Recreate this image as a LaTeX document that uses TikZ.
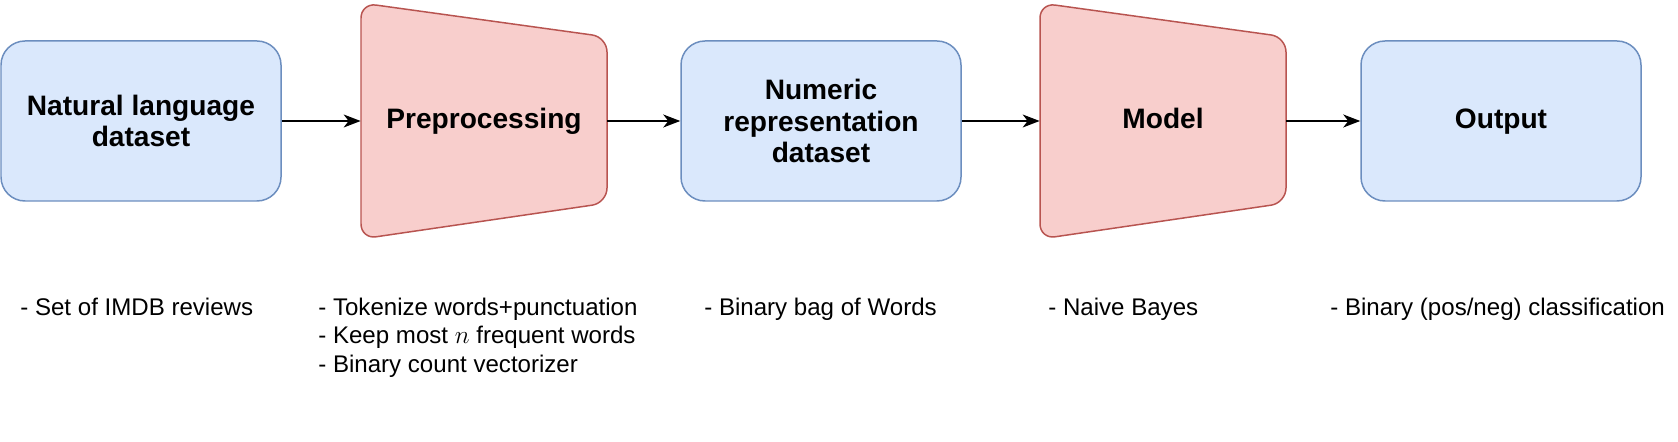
\documentclass[tikz,border=0pt]{standalone}
\usepackage{fontspec}
\setmainfont{Liberation Sans}
\usetikzlibrary{arrows.meta}
\definecolor{boxfill}{HTML}{DAE8FC}
\definecolor{boxline}{HTML}{6C8EBF}
\definecolor{trapfill}{HTML}{F8CECC}
\definecolor{trapline}{HTML}{B85450}
\tikzset{
  databox/.style={draw=boxline, fill=boxfill, line width=0.85pt, rounded corners=0.48cm,
    minimum width=5.6cm, minimum height=3.2cm,
    font=\fontsize{16}{18}\selectfont\bfseries},
  stagebox/.style={minimum width=4.92cm, minimum height=4.72cm,
    font=\fontsize{16}{18}\selectfont\bfseries},
  oneline/.style={text height=1.1em, text depth=0.21em},
  note/.style={anchor=north west, inner sep=0pt, align=left, font=\fontsize{13.7}{16}\selectfont},
  flow/.style={-{Stealth[length=0.34cm,width=0.26cm,inset=0.1cm]}, line width=0.75pt}
}
\begin{document}
\begin{tikzpicture}
\useasboundingbox (0,0) rectangle (33.56,-8.84);
\foreach \cx in {9.68,23.26} {
  \filldraw[draw=trapline, fill=trapfill, line width=0.85pt, rounded corners=0.3cm]
    ({\cx-2.46},-0.06) -- ({\cx+2.46},-0.74) -- ({\cx+2.46},-4.06) -- ({\cx-2.46},-4.78) -- cycle;
}
\node[databox, align=center] (natural) at (2.82,-2.42) {Natural language\\dataset};
\node[stagebox, oneline] (prep) at (9.68,-2.42) {Preprocessing};
\node[databox, align=center] (numeric) at (16.42,-2.42) {Numeric\\representation\\dataset};
\node[stagebox, oneline] (model) at (23.26,-2.42) {Model};
\node[databox, oneline] (output) at (30.02,-2.42) {Output};
\draw[flow] (natural) -- (prep);
\draw[flow] (prep) -- (numeric);
\draw[flow] (numeric) -- (model);
\draw[flow] (model) -- (output);
\node[note] (imdb) at (0.4,-5.96) {- Set of IMDB reviews};
\node[note] (steps) at (6.36,-5.96) {- Tokenize words+punctuation\\- Keep most \(n\) frequent words\\- Binary count vectorizer};
\node[note] (bow) at (14.08,-5.96) {- Binary bag of Words};
\node[note] (bayes) at (20.96,-5.96) {- Naive Bayes};
\node[note] (binary) at (26.6,-5.96) {- Binary (pos/neg) classification};
\end{tikzpicture}
\end{document}
